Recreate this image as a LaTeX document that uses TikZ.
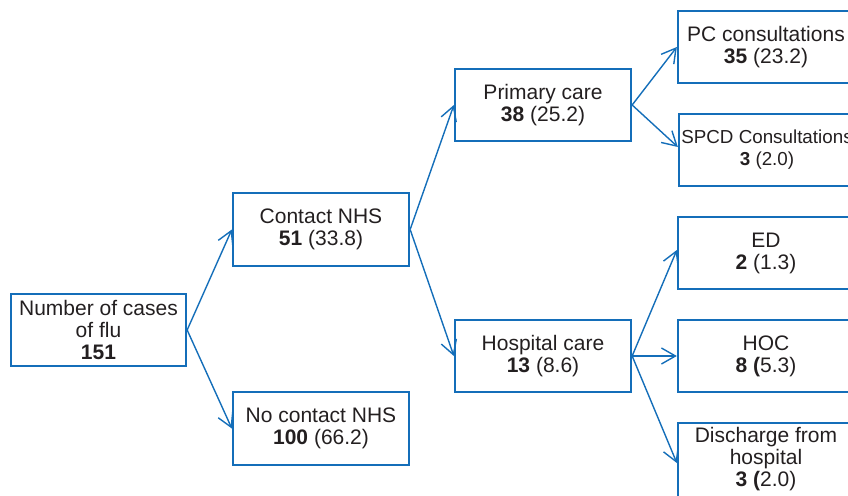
\documentclass[tikz,border=0pt]{standalone}
\usepackage{fontspec}
\setmainfont{Liberation Sans}
\usetikzlibrary{arrows.meta}
\definecolor{boxblue}{RGB}{20,110,185}
\definecolor{txt}{RGB}{35,31,32}
\begin{document}
\begin{tikzpicture}[x=1pt,y=-1pt,
  box/.style={draw=boxblue, line width=2.3pt, minimum width=176pt, minimum height=72pt,
    align=center, inner sep=0pt, text=txt, font=\fontsize{21}{22}\selectfont},
  conn/.style={draw=boxblue, line width=1.4pt, -{Straight Barb[length=14pt,width=16pt,line width=1.4pt]}}]
\useasboundingbox (0,0) rectangle (848,495);
\node[box, minimum width=175pt] (root) at (98.5,330) {Number of cases\\of flu\\\textbf{151}};
\node[box, minimum height=73pt] (contact) at (321,229.5) {Contact NHS\\\textbf{51} (33.8)};
\node[box, minimum height=73pt] (nocontact) at (321,428.5) {No contact NHS\\\textbf{100} (66.2)};
\node[box] (primary) at (543,105) {Primary care\\\textbf{38} (25.2)};
\node[box] (hospital) at (543,356) {Hospital care\\\textbf{13} (8.6)};
\node[box] (pc) at (766,47) {PC consultations\\\textbf{35} (23.2)};
\node[box, font=\fontsize{18.8}{22}\selectfont] (spcd) at (767,150) {SPCD Consultations\\\textbf{3} (2.0)};
\node[box] (ed) at (766,253) {ED\\\textbf{2} (1.3)};
\node[box] (hoc) at (766,356) {HOC\\\textbf{8 (}5.3)};
\node[box, minimum height=76pt] (dis) at (766,461) {};
\node[text=txt, align=center, font=\fontsize{21}{22}\selectfont] (distext) at (766,459) {Discharge from\\hospital\\\textbf{3 (}2.0)};
\draw[conn] (root.east) -- (contact.west);
\draw[conn] (root.east) -- (nocontact.west);
\draw[conn] (contact.east) -- (primary.west);
\draw[conn] (contact.east) -- (hospital.west);
\draw[conn] (primary.east) -- (pc.west);
\draw[conn] (primary.east) -- ([yshift=3pt]spcd.west);
\draw[conn] (hospital.east) -- ([yshift=3pt]ed.west);
\draw[conn] (hospital.east) -- (hoc.west);
\draw[conn] (hospital.east) -- ([yshift=-2pt]dis.west);
\end{tikzpicture}
\end{document}
